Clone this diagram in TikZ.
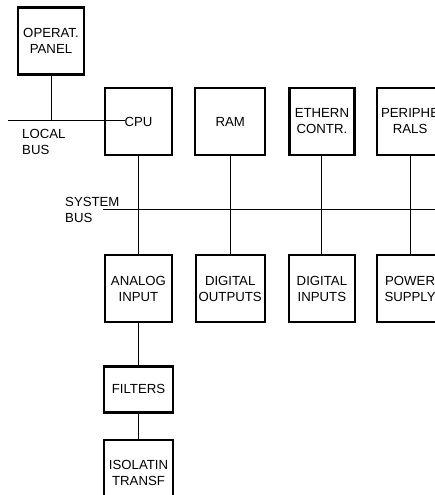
\documentclass[tikz,border=0pt]{standalone}
\usepackage{fontspec}
\setmainfont{Liberation Sans}
\usetikzlibrary{positioning}
\tikzset{
  unit node/.style={
    rectangle, draw, line width=2.2pt, minimum width=#1, minimum height=67pt,
    align=center, font=\fontsize{13.2}{16}\selectfont, inner sep=0pt
  },
  bus/.style={line width=1pt},
  bus label/.style={anchor=north west, align=left, inner sep=0pt,
    font=\fontsize{13.2}{16}\selectfont},
}

\begin{document}
\begin{tikzpicture}[x=1pt, y=-1pt]
  \useasboundingbox (0,0) rectangle (435,495);
  \clip (0,0) rectangle (435,495);

  \node[unit node=66pt] (panel) at (51,41) {OPERAT.\\PANEL};

  \node[unit node=67pt] (cpu) at (138.5,121.5) {CPU};
  \node[unit node=70pt, right=21pt of cpu] (ram) {RAM};
  \node[unit node=65pt, right=22pt of ram] (ethern) {ETHERN\\CONTR.};
  \node[unit node=67pt, right=20pt of ethern] (periph) {PERIPHE\\RALS};

  \node[unit node=67pt, below=98pt of cpu] (analog) {ANALOG\\INPUT};
  \node[unit node=69pt, below=98pt of ram] (digout) {DIGITAL\\OUTPUTS};
  \node[unit node=66pt, below=98pt of ethern] (digin) {DIGITAL\\INPUTS};
  \node[unit node=67pt, below=98pt of periph] (power) {POWER\\SUPPLY};

  \node[unit node=69pt, minimum height=46pt, below=42pt of analog] (filters) {FILTERS};
  \node[unit node=69pt, below=25pt of filters] (isolat) {ISOLATIN\\TRANSF};

  \node[bus label] (lbuslabel) at (22,129) {LOCAL\\BUS};
  \node[bus label] (sbuslabel) at (65,197) {SYSTEM\\BUS};

  % local bus
  \coordinate (lbusw) at (8,120);
  \draw[bus] (lbusw) -- (lbusw -| cpu.text);
  \draw[bus] (panel.south) -- (panel.south |- lbusw);

  % system bus
  \coordinate (sbusw) at (103,209);
  \coordinate (sbuse) at (440,209);
  \draw[bus] (sbusw) -- (sbuse);

  \draw[bus] (cpu) -- (analog);
  \draw[bus] (ram) -- (digout);
  \draw[bus] (ethern) -- (digin);
  \draw[bus] (periph) -- (power);
  \draw[bus] (analog) -- (filters);
  \draw[bus] (filters) -- (isolat);
\end{tikzpicture}
\end{document}
